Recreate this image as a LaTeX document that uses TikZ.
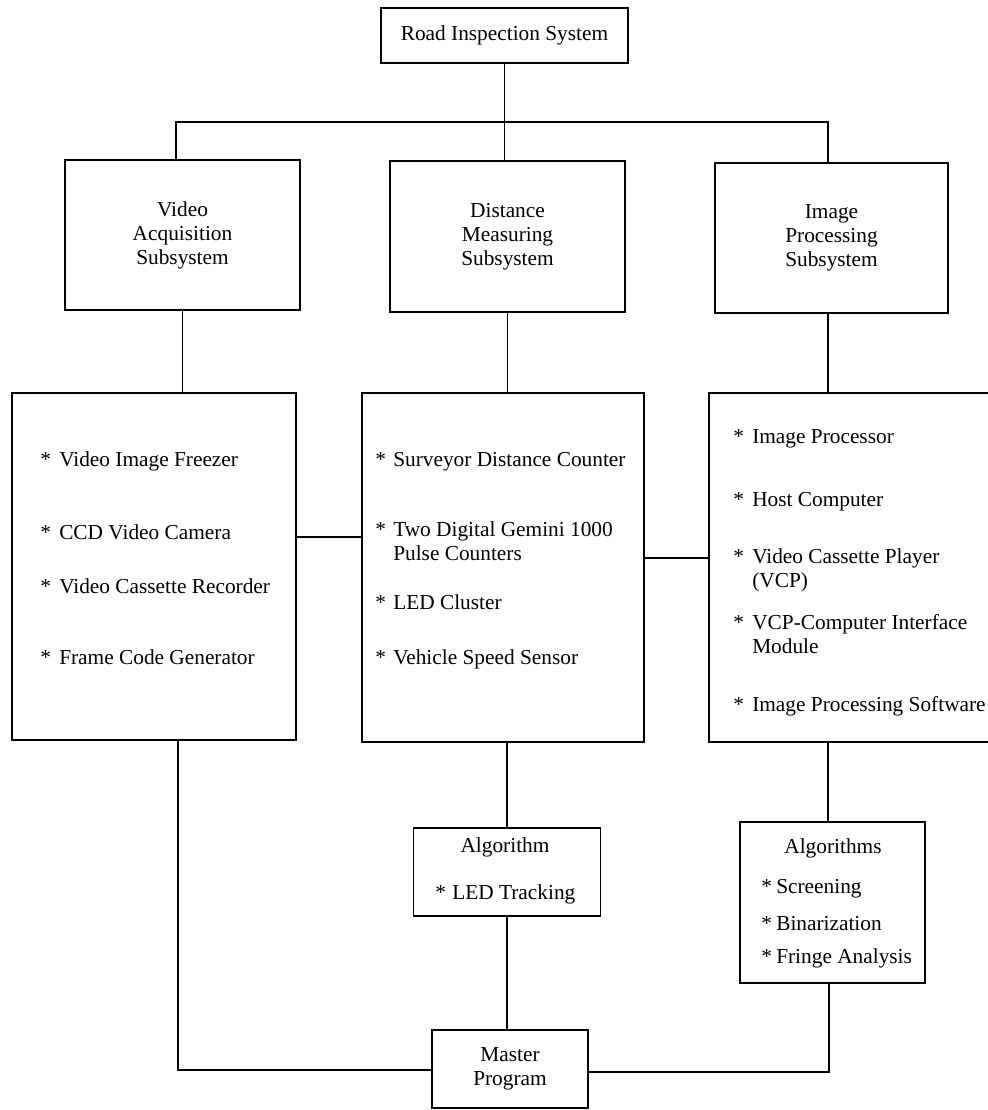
\documentclass[tikz,border=0pt]{standalone}
\usepackage{fontspec}
\setmainfont{Liberation Serif}
\begin{document}
\begin{tikzpicture}[x=0.75pt,y=-0.75pt,
  every node/.style={font=\fontsize{16}{18}\selectfont},
  box/.style={draw, line width=1.2pt, rectangle, inner sep=0pt, align=center},
  masterbox/.style={box, line width=2.2pt},
  txt/.style={anchor=base west, inner sep=0pt},
  star/.style={anchor=base west, inner sep=0pt},
  ttl/.style={anchor=base, inner sep=0pt},
  conn/.style={line width=1.2pt}]
\useasboundingbox (0,0) rectangle (988,1110);

% boxes
\node[box, minimum width=185.25pt, minimum height=41.25pt] (top) at (504.5,35.5) {Road Inspection System};
\node[box, minimum width=176.25pt, minimum height=112.5pt] (video) at (182.5,235) {Video\\Acquisition\\Subsystem};
\node[box, minimum width=176.25pt, minimum height=113.25pt] (dist) at (507.5,236.5) {Distance\\Measuring\\Subsystem};
\node[box, minimum width=174.75pt, minimum height=112.5pt] (image) at (831.5,238) {Image\\Processing\\Subsystem};
\node[box, minimum width=213pt, minimum height=260.25pt] (bigL) at (154,566.5) {};
\node[box, minimum width=211.5pt, minimum height=261.75pt] (bigM) at (503,567.5) {};
\node[box, minimum width=212.25pt, minimum height=261.75pt] (bigR) at (850.5,567.5) {};
\node[box, minimum width=140.25pt, minimum height=66pt] (alg) at (507,872) {};
\node[box, minimum width=138.75pt, minimum height=120.75pt] (algs) at (832.5,902.5) {};
\node[masterbox, minimum width=117pt, minimum height=58.5pt] (master) at (510,1069) {Master\\Program};

% left list
\node[star] (sL1) at (40,466) {*}; \node[txt] (tL1) at (59,466) {Video Image Freezer};
\node[star] (sL2) at (40,539) {*}; \node[txt] (tL2) at (59,539) {CCD Video Camera};
\node[star] (sL3) at (40,593) {*}; \node[txt] (tL3) at (59,593) {Video Cassette Recorder};
\node[star] (sL4) at (40,664) {*}; \node[txt] (tL4) at (59,664) {Frame Code Generator};

% middle list
\node[star] (sM1) at (375,466) {*}; \node[txt] (tM1) at (393,466) {Surveyor Distance Counter};
\node[star] (sM2) at (375,536) {*}; \node[txt] (tM2) at (393,536) {Two Digital Gemini 1000};
\node[txt] (tM2b) at (393,560) {Pulse Counters};
\node[star] (sM3) at (375,609) {*}; \node[txt] (tM3) at (393,609) {LED Cluster};
\node[star] (sM4) at (375,664) {*}; \node[txt] (tM4) at (393,664) {Vehicle Speed Sensor};

% right list
\node[star] (sR1) at (733,443) {*}; \node[txt] (tR1) at (752,443) {Image Processor};
\node[star] (sR2) at (733,506) {*}; \node[txt] (tR2) at (752,506) {Host Computer};
\node[star] (sR3) at (733,563) {*}; \node[txt] (tR3) at (752,563) {Video Cassette Player};
\node[txt] (tR3b) at (752,587) {(VCP)};
\node[star] (sR4) at (733,629) {*}; \node[txt] (tR4) at (752,629) {VCP-Computer Interface};
\node[txt] (tR4b) at (752,653) {Module};
\node[star] (sR5) at (733,711) {*}; \node[txt] (tR5) at (752,711) {Image Processing Software};

% algorithm box
\node[ttl] (algT) at (505,852) {Algorithm};
\node[star] (sA1) at (435,899) {*}; \node[txt] (tA1) at (452,899) {LED Tracking};

% algorithms box
\node[ttl] (algsT) at (833,853) {Algorithms};
\node[star] (sB1) at (761,893) {*}; \node[txt] (tB1) at (776,893) {Screening};
\node[star] (sB2) at (761,930) {*}; \node[txt] (tB2) at (776,930) {Binarization};
\node[star] (sB3) at (761,963) {*}; \node[txt] (tB3) at (776,963) {Fringe Analysis};

% connectors
\coordinate (barL) at (176,122);
\coordinate (barR) at (828,122);
\coordinate (vr) at (828,0);
\coordinate (hl) at (330,537);
\coordinate (hr) at (676,558);
\coordinate (vr2) at (829,1072);
\coordinate (vl) at (178,1070);

\draw[conn] (top.south) -- (top.south |- dist.north);
\draw[conn] (video.north -| barL) -- (barL) -- (barR) -- (image.north -| barR);
\draw[conn] (video.south) -- (video.south |- bigL.north);
\draw[conn] (dist.south) -- (dist.south |- bigM.north);
\draw[conn] (image.south -| vr) -- (bigR.north -| vr);
\draw[conn] (bigL.east |- hl) -- (bigM.west |- hl);
\draw[conn] (bigM.east |- hr) -- (bigR.west |- hr);
\draw[conn] (alg.north) -- (alg.north |- bigM.south);
\draw[conn] (alg.south) -- (alg.south |- master.north);
\draw[conn] (bigR.south -| vr) -- (algs.north -| vr);
\draw[conn] (algs.south -| vr2) -- (vr2) -- (master.east |- vr2);
\draw[conn] (bigL.south -| vl) -- (vl) -- (master.west |- vl);
\end{tikzpicture}
\end{document}
